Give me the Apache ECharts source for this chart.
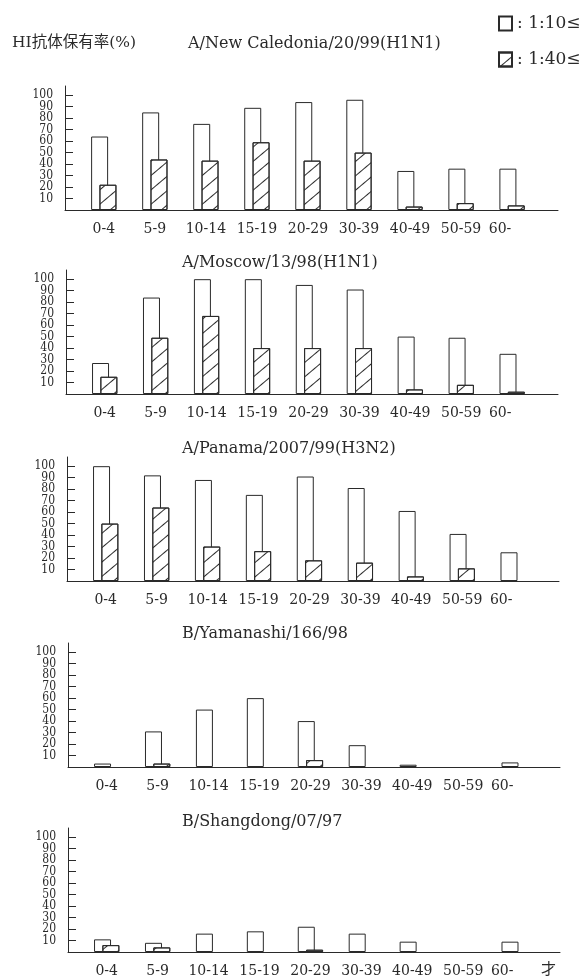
<!DOCTYPE html>
<html>
<head>
<meta charset="utf-8">
<script src="https://cdn.jsdelivr.net/npm/echarts@6/dist/echarts.min.js"></script>
<style>
html,body{margin:0;padding:0;background:#fff;}
#chart{width:587px;height:979px;}
</style>
</head>
<body>
<div id="chart"></div>
<script>
// ---------------- data ----------------
const ageGroups = ['0-4', '5-9', '10-14', '15-19', '20-29', '30-39', '40-49', '50-59', '60-'];
const strainNames = ['A/New Caledonia/20/99(H1N1)', 'A/Moscow/13/98(H1N1)', 'A/Panama/2007/99(H3N2)', 'B/Yamanashi/166/98', 'B/Shangdong/07/97'];
const yTickValues = [10, 20, 30, 40, 50, 60, 70, 80, 90, 100];
const legendNames = ['1:10≤', '1:40≤'];

// HI antibody rate (%) at titer >= 1:10 and >= 1:40
const newCaledonia10 = [64, 85, 75, 89, 94, 96, 34, 36, 36];
const newCaledonia40 = [22, 44, 43, 59, 43, 50, 3, 6, 4];
const moscow10 = [27, 84, 100, 100, 95, 91, 50, 49, 35];
const moscow40 = [15, 49, 68, 40, 40, 40, 4, 8, 2];
const panama10 = [100, 92, 88, 75, 91, 81, 61, 41, 25];
const panama40 = [50, 64, 30, 26, 18, 16, 4, 11, null];
const yamanashi10 = [3, 31, 50, 60, 40, 19, 2, null, 4];
const yamanashi40 = [null, 3, null, null, 6, null, null, null, null];
const shangdong10 = [11, 8, 16, 18, 22, 16, 9, null, 9];
const shangdong40 = [6, 4, null, null, 2, null, null, null, null];

// ---------------- layout / style ----------------
const panels10 = [newCaledonia10, moscow10, panama10, yamanashi10, shangdong10];
const panels40 = [newCaledonia40, moscow40, panama40, yamanashi40, shangdong40];
const panelTop = [86, 270, 457, 643, 828];
const panelHeight = 124;
const panelLeft = [65, 66, 67, 68, 68];
const panelRight = [558, 558, 559, 560, 560];
const titleLeft = [188, 182, 182, 182, 182];
const titleTop = [36, 255, 441, 626, 814];
const yMin = 0, yMax = 108;
// empty end labels so the real tick labels are never dropped as "min/max" overlaps
const yLabelValues = [yMin].concat(yTickValues, [yMax]);

const FONT = "'DejaVu Serif', 'Noto Sans CJK JP', serif";
const INK = '#2a2a2a';
const lineStyle = { color: INK, width: 1 };

const grids = [], xAxes = [], yAxes = [], series = [], titles = [];

titles.push({
  text: 'HI抗体保有率(%)', left: 12, top: 35, padding: 0,
  textStyle: { fontFamily: FONT, fontSize: 15.5, fontWeight: 'normal', color: INK }
});

for (let p = 0; p < 5; p++) {
  grids.push({ left: panelLeft[p], top: panelTop[p], width: panelRight[p] - panelLeft[p], height: panelHeight });
  titles.push({
    text: strainNames[p], left: titleLeft[p], top: titleTop[p], padding: 0,
    textStyle: { fontFamily: FONT, fontSize: 16, fontWeight: 'normal', color: INK }
  });
  xAxes.push({
    type: 'value', gridIndex: p, min: -0.76, max: 8.9,
    splitLine: { show: false },
    axisLine: { show: true, onZero: false, lineStyle },
    axisTick: { show: false },
    axisLabel: {
      customValues: ageGroups.map((_, i) => i),
      margin: 12, hideOverlap: false,
      color: INK, fontFamily: FONT, fontSize: 14,
      formatter: v => {
        const i = Math.round(v);
        if (i === ageGroups.length - 1) return '{s|' + ageGroups[i] + '}';
        return ageGroups[i] || '';
      },
      rich: { s: { color: INK, fontFamily: FONT, fontSize: 14, padding: [0, 24, 0, 0] } }
    }
  });
  yAxes.push({
    type: 'value', gridIndex: p, min: yMin, max: yMax,
    splitLine: { show: false },
    axisLine: { show: true, onZero: false, lineStyle },
    axisTick: { show: true, inside: true, length: 8, customValues: yLabelValues, lineStyle },
    axisLabel: {
      customValues: yLabelValues, margin: 12,
      hideOverlap: false, showMinLabel: false, showMaxLabel: false,
      formatter: v => (yTickValues.indexOf(v) >= 0 ? String(v) : ''),
      color: INK, fontFamily: "'DejaVu Serif Condensed', 'DejaVu Serif', serif",
      fontSize: 12
    }
  });
  series.push({
    type: 'bar', name: legendNames[0], xAxisIndex: p, yAxisIndex: p,
    data: panels10[p].map((v, i) => [i, v]),
    barWidth: 17, barGap: '-51%', z: 2,
    itemStyle: { color: '#ffffff', borderColor: INK, borderWidth: 1 }
  });
  series.push({
    type: 'bar', name: legendNames[1], xAxisIndex: p, yAxisIndex: p,
    data: panels40[p].map((v, i) => [i, v]),
    barWidth: 17, barGap: '-51%', z: 3,
    itemStyle: {
      color: '#ffffff', borderColor: INK, borderWidth: 1,
      decal: { symbol: 'rect', symbolSize: 1, color: INK, dashArrayX: [1, 0], dashArrayY: [1, 10], rotation: -0.7 }
    }
  });
}

titles.push({
  text: '才', left: 541, top: 963, padding: 0,
  textStyle: { fontFamily: FONT, fontSize: 15, fontWeight: 'normal', color: INK }
});

const chart = echarts.init(document.getElementById('chart'));
chart.setOption({
  backgroundColor: '#ffffff',
  animation: false,
  title: titles,
  legend: {
    data: legendNames, orient: 'vertical', left: 498, top: 15, padding: 0,
    icon: 'rect', itemWidth: 13, itemHeight: 14, itemGap: 19,
    selectedMode: false,
    formatter: name => ': ' + name,
    textStyle: { fontFamily: FONT, fontSize: 17, color: INK }
  },
  grid: grids,
  xAxis: xAxes,
  yAxis: yAxes,
  series: series
});
</script>
</body>
</html>
